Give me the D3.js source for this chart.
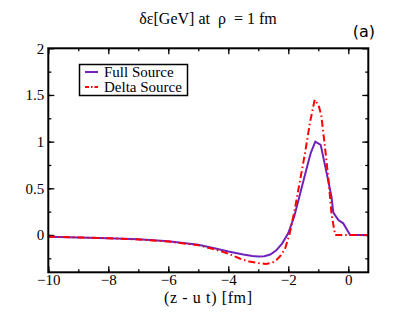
<!DOCTYPE html>
<html>
<head>
<meta charset="utf-8">
<script src="https://cdn.jsdelivr.net/npm/d3@7"></script>
<style>
  body { margin: 0; background: #fff; }
  svg text { font-family: "Liberation Serif", "Times New Roman", serif; fill: #000; white-space: pre; }
</style>
</head>
<body>
<svg id="chart" width="415" height="321"></svg>
<script>
// curve samples
const fullX = [-10, -9, -8, -7, -6, -5, -4.5, -4, -3.5, -3.2, -3, -2.8, -2.6, -2.4, -2.2, -2, -1.8, -1.6, -1.4, -1.25, -1.1, -0.92, -0.72, -0.56, -0.5, -0.33, -0.17, 0.06, 0.67];
const fullY = [-0.018, -0.026, -0.035, -0.047, -0.068, -0.105, -0.14, -0.178, -0.21, -0.226, -0.232, -0.228, -0.21, -0.165, -0.09, 0.02, 0.2, 0.45, 0.7, 0.88, 1.0, 0.965, 0.66, 0.41, 0.24, 0.16, 0.125, 0, 0];

const deltaX = [-10, -9, -8, -7, -6, -5, -4.5, -4, -3.6, -3.3, -3, -2.75, -2.55, -2.4, -2.25, -2.1, -1.95, -1.78, -1.6, -1.44, -1.28, -1.12, -0.99, -0.9, -0.78, -0.66, -0.56, -0.44, 0.67];
const deltaY = [-0.018, -0.026, -0.035, -0.048, -0.07, -0.11, -0.15, -0.2, -0.255, -0.285, -0.3, -0.31, -0.3, -0.27, -0.22, -0.14, 0.02, 0.28, 0.6, 0.88, 1.2, 1.45, 1.39, 1.28, 0.95, 0.59, 0.23, 0, 0];

const xTicks = [-10, -8, -6, -4, -2, 0];
const yTicks = [0, 0.5, 1, 1.5, 2];
const seriesNames = ["Full Source", "Delta Source"];
const seriesColors = ["#7221bc", "#ff0000"];

const serif = "'Liberation Serif', 'Times New Roman', serif";
const svg = d3.select("#chart");
const plot = { left: 48.3, right: 368.3, top: 48.3, bottom: 272.3 };

const x = d3.scaleLinear().domain([-10, 0.667]).range([plot.left, plot.right]);
const y = d3.scaleLinear().domain([-0.4, 2]).range([plot.bottom, plot.top]);

const xMinor = d3.range(-10, 1, 1);
const yMinor = d3.range(-0.25, 2, 0.25);

function addAxis(axis, tx, ty, labelled) {
  const g = svg.append("g").attr("transform", `translate(${tx},${ty})`).call(axis);
  g.attr("font-family", null);
  g.select(".domain").remove();
  g.selectAll("line").attr("stroke", "#000").attr("stroke-width", 1.3);
  if (labelled) g.selectAll("text").attr("font-size", 15).style("font-family", serif);
  else g.selectAll("text").remove();
  return g;
}

// major + minor ticks on all four sides, pointing in
addAxis(d3.axisBottom(x).tickValues(xTicks).tickSize(-6).tickPadding(2).tickFormat(d3.format("d")), 0, plot.bottom, true);
addAxis(d3.axisBottom(x).tickValues(xMinor).tickSize(-3).tickFormat(""), 0, plot.bottom, false);
addAxis(d3.axisTop(x).tickValues(xTicks).tickSize(-6).tickFormat(""), 0, plot.top, false);
addAxis(d3.axisTop(x).tickValues(xMinor).tickSize(-3).tickFormat(""), 0, plot.top, false);
addAxis(d3.axisLeft(y).tickValues(yTicks).tickSize(-6).tickPadding(4).tickFormat(d => d3.format("")(d)), plot.left, 0, true);
addAxis(d3.axisLeft(y).tickValues(yMinor).tickSize(-3).tickFormat(""), plot.left, 0, false);
addAxis(d3.axisRight(y).tickValues(yTicks).tickSize(-6).tickFormat(""), plot.right, 0, false);
addAxis(d3.axisRight(y).tickValues(yMinor).tickSize(-3).tickFormat(""), plot.right, 0, false);

// curves
const line = d3.line().x(d => x(d[0])).y(d => y(d[1]));
svg.append("clipPath").attr("id", "clip").append("rect")
  .attr("x", plot.left).attr("y", plot.top)
  .attr("width", plot.right - plot.left).attr("height", plot.bottom - plot.top);

svg.append("path")
  .datum(d3.zip(fullX, fullY))
  .attr("clip-path", "url(#clip)")
  .attr("fill", "none")
  .attr("stroke", seriesColors[0])
  .attr("stroke-width", 2)
  .attr("d", line);

svg.append("path")
  .datum(d3.zip(deltaX, deltaY))
  .attr("clip-path", "url(#clip)")
  .attr("fill", "none")
  .attr("stroke", seriesColors[1])
  .attr("stroke-width", 2)
  .attr("stroke-dasharray", "7,3,1.5,3")
  .attr("d", line);

// frame
svg.append("rect")
  .attr("x", plot.left).attr("y", plot.top)
  .attr("width", plot.right - plot.left).attr("height", plot.bottom - plot.top)
  .attr("fill", "none").attr("stroke", "#000").attr("stroke-width", 2);

// legend
const legend = svg.append("g");
legend.append("rect")
  .attr("x", 79.5).attr("y", 64.5).attr("width", 108).attr("height", 31)
  .attr("fill", "#fff").attr("stroke", "#000").attr("stroke-width", 1.5);
seriesNames.forEach((name, i) => {
  const ly = 72 + i * 15;
  legend.append("line")
    .attr("x1", 85).attr("x2", 98).attr("y1", ly).attr("y2", ly)
    .attr("stroke", seriesColors[i]).attr("stroke-width", 2)
    .attr("stroke-dasharray", i === 1 ? "4,2,1.5,2" : null);
  legend.append("text")
    .attr("x", 104).attr("y", ly + 4.5)
    .attr("font-size", 15)
    .style("font-family", serif)
    .text(name);
});

// titles
svg.append("text")
  .attr("x", 208).attr("y", 24)
  .attr("text-anchor", "middle")
  .attr("font-size", 16)
  .style("font-family", serif)
  .text("δε[GeV] at  ρ  = 1 fm");

svg.append("text")
  .attr("x", 164).attr("y", 303)
  .attr("font-size", 16)
  .attr("textLength", 88)
  .attr("lengthAdjust", "spacing")
  .style("font-family", serif)
  .text("(z - u t) [fm]");

svg.append("text")
  .attr("x", 375).attr("y", 37)
  .attr("text-anchor", "end")
  .attr("font-size", 16)
  .style("font-family", "'DejaVu Sans', sans-serif")
  .text("(a)");
</script>
</body>
</html>
